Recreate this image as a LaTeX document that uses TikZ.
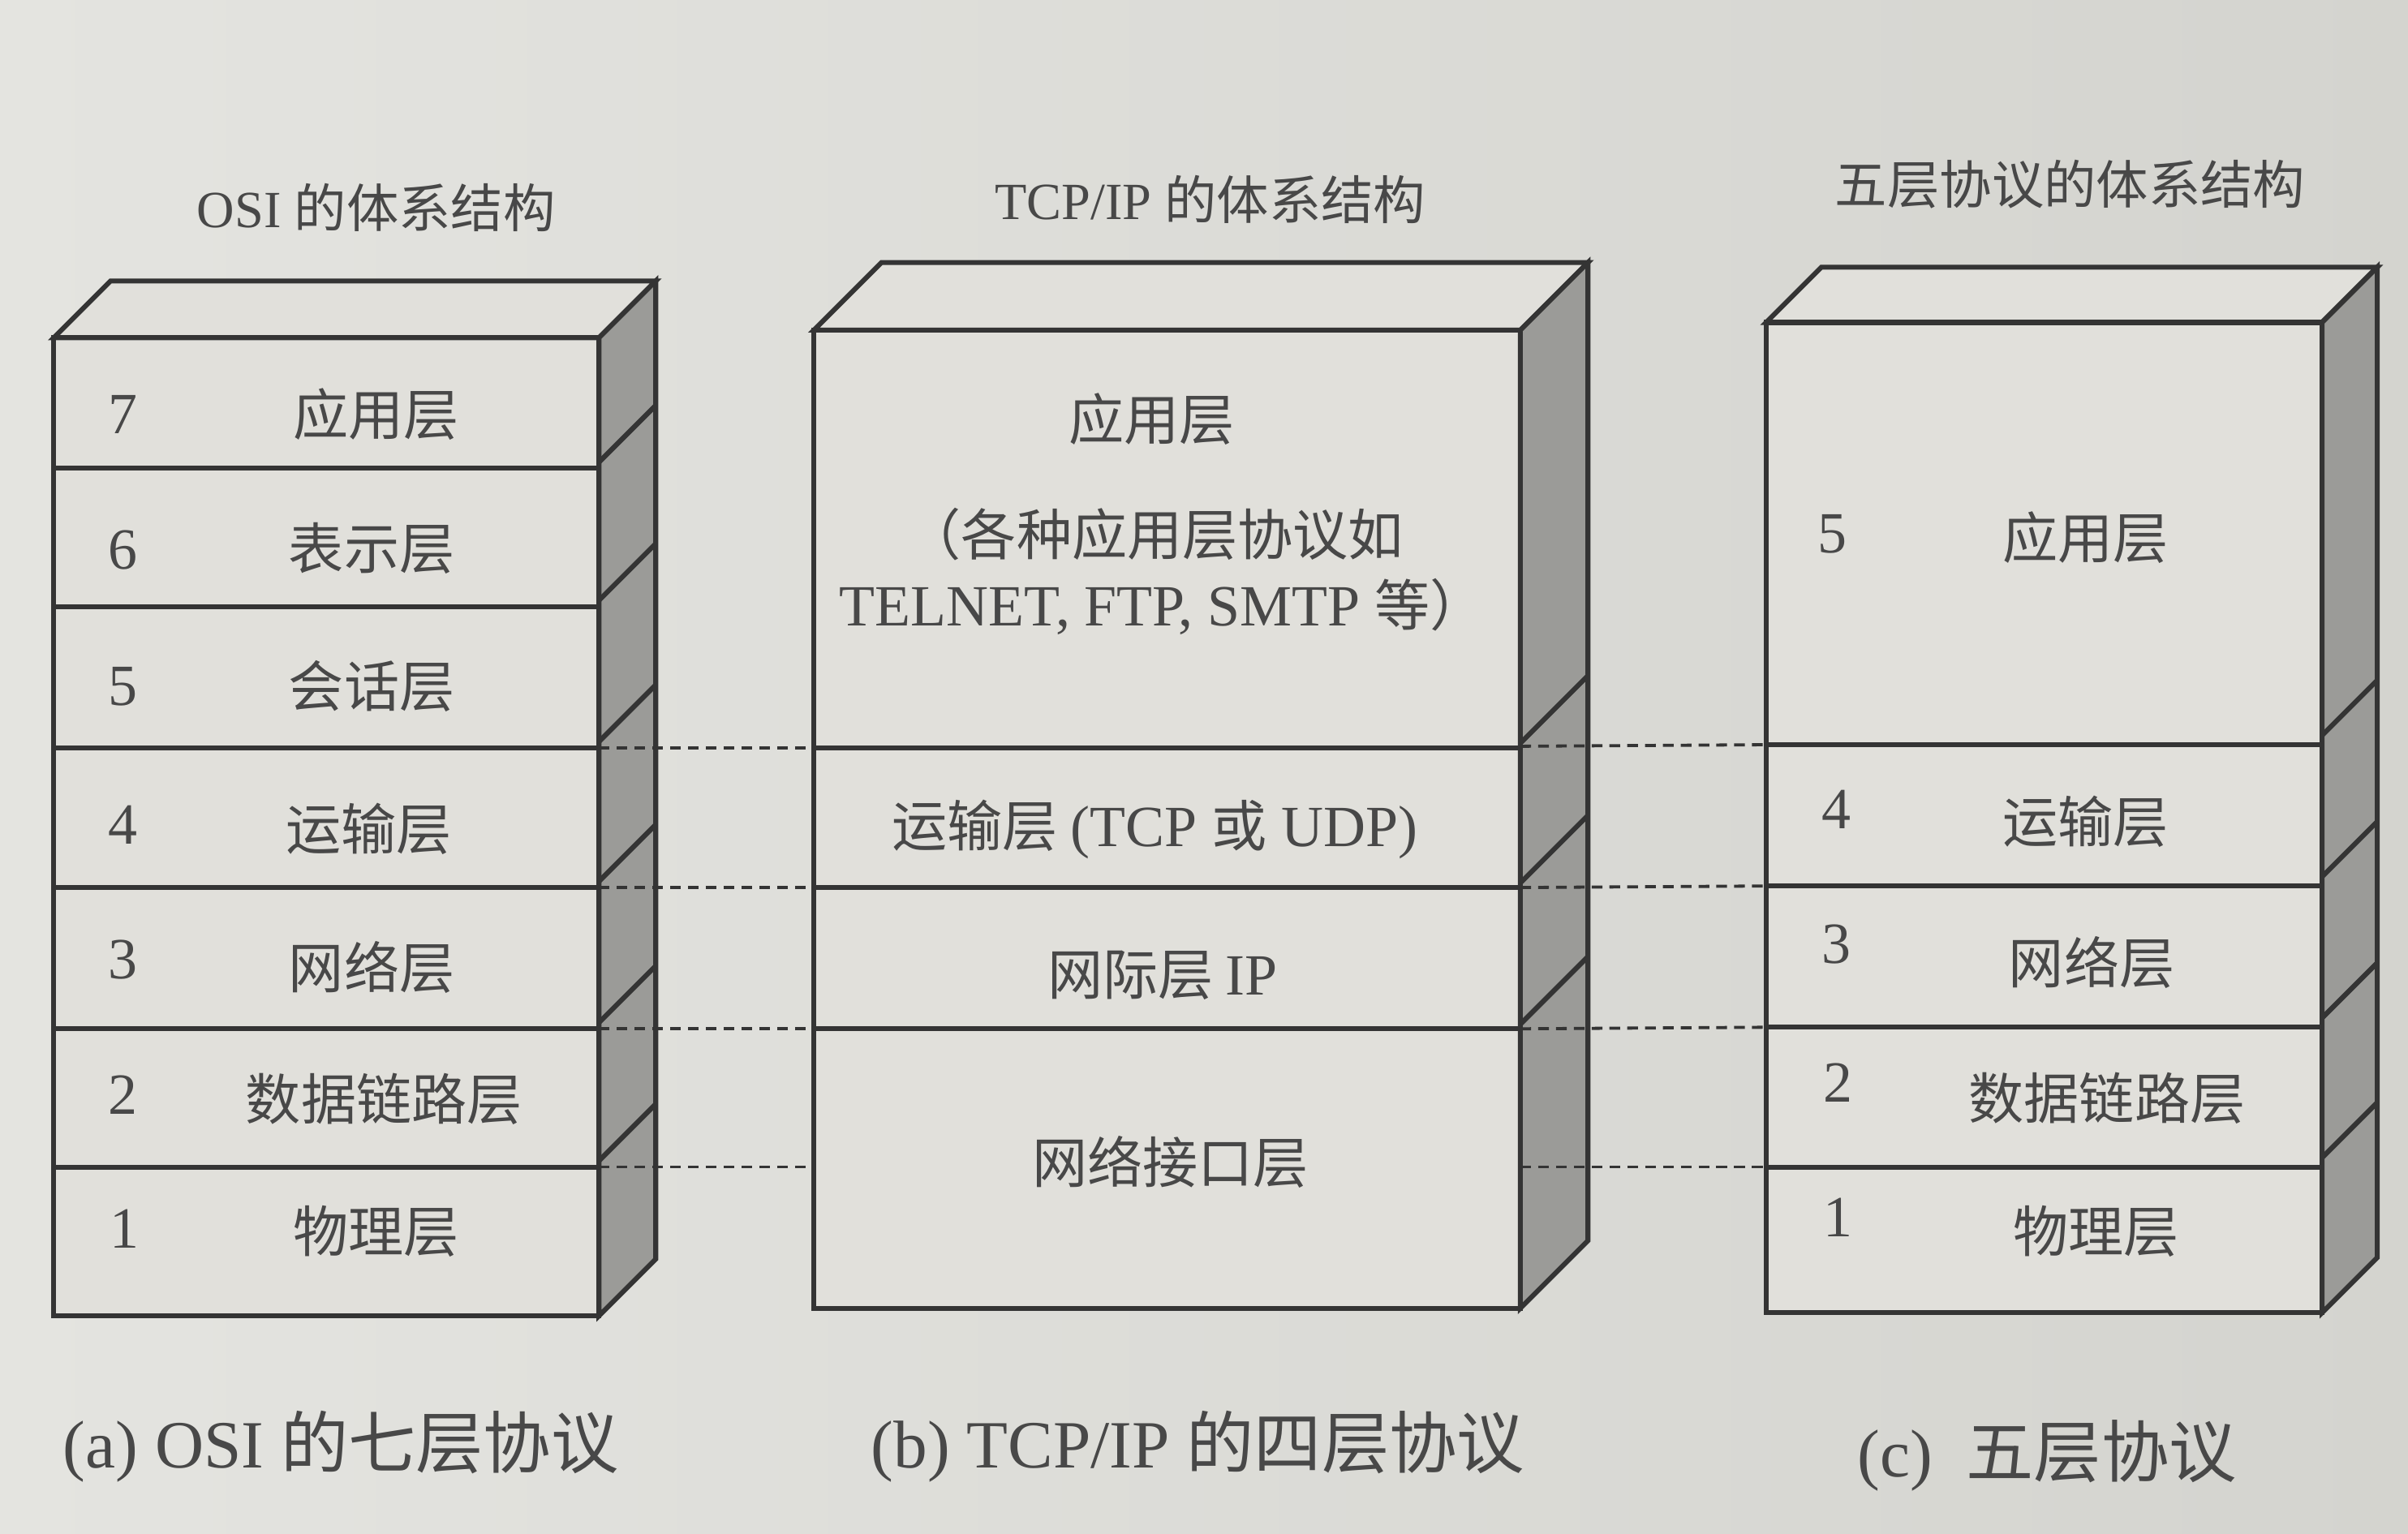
\documentclass[tikz,border=0pt]{standalone}
\usepackage{fontspec}
\setmainfont{Liberation Serif}
\newfontfamily\cjk{Noto Sans CJK SC}
\definecolor{bgL}{RGB}{228,228,224}
\definecolor{bgR}{RGB}{212,212,207}
\definecolor{face}{RGB}{225,224,219}
\definecolor{sideface}{RGB}{155,155,152}
\definecolor{ink}{RGB}{52,52,52}
\definecolor{txt}{RGB}{72,72,72}
\newcommand\layerbox[5]{% x1, x2, ytop, ybottom, depth
  \fill[face] (#1,#3) rectangle (#2,#4);
  \filldraw[fill=face,edge] (#1,#3) -- (#1+#5,#3-#5) -- (#2+#5,#3-#5) -- (#2,#3) -- cycle;
  \filldraw[fill=sideface,edge] (#2,#3) -- (#2+#5,#3-#5) -- (#2+#5,#4-#5) -- (#2,#4) -- cycle;
  \draw[edge] (#1,#3) rectangle (#2,#4);
}
\begin{document}
\begin{tikzpicture}[x=0.5pt,y=-0.5pt,
  edge/.style={draw=ink,line width=1.6pt,line join=miter},
  rowline/.style={draw=ink,line width=1.6pt},
  dashconn/.style={draw=ink,line width=1pt,dash pattern=on 3.5pt off 2.3pt},
  lbl/.style={font=\cjk\fontsize{18}{20}\selectfont,text=txt,inner sep=0pt},
  latin/.style={font=\fontsize{19}{21}\selectfont},
  num/.style={font=\fontsize{19}{21}\selectfont,text=txt,inner sep=0pt},
  ttl/.style={font=\fontsize{17}{20}\selectfont,text=txt,inner sep=0pt},
  captxt/.style={font=\fontsize{22}{26}\selectfont,text=txt,inner sep=0pt}]
\useasboundingbox (0,0) rectangle (1568,999);
\shade[left color=bgL,right color=bgR] (0,0) rectangle (1568,999);

% ---------- titles ----------
\node[ttl] (tA) at (245,135) {OSI {\cjk 的体系结构}};
\node[ttl] (tB) at (788,130) {TCP/IP {\cjk 的体系结构}};
\node[ttl] (tC) at (1348,120) {\cjk 五层协议的体系结构};

% ---------- box A (OSI) ----------
\layerbox{35}{390}{220}{857}{37}
\foreach \r in {305,395,487,578,670,760} {
  \draw[rowline] (35,\r) -- (390,\r);
  \draw[edge] (390,\r-4) -- (427,\r-41);
}
% ---------- box B (TCP/IP) ----------
\layerbox{530}{990}{215}{852}{44}
\foreach \r in {487,578,670} {
  \draw[rowline] (530,\r) -- (990,\r);
  \draw[edge] (990,\r-3) -- (1034,\r-47);
}
% ---------- box C (five layers) ----------
\layerbox{1150}{1512}{210}{855}{36}
\foreach \r in {485,577,669,760} {
  \draw[rowline] (1150,\r) -- (1512,\r);
  \draw[edge] (1512,\r-6) -- (1548,\r-42);
}

% ---------- connector end points ----------
\coordinate (A4) at (390,487); \coordinate (A3) at (390,578);
\coordinate (A2) at (390,670); \coordinate (A1) at (390,760);
\coordinate (BL4) at (530,487); \coordinate (BL3) at (530,578);
\coordinate (BL2) at (530,670); \coordinate (BL1) at (530,760);
\coordinate (BR4) at (990,486); \coordinate (BR3) at (990,578);
\coordinate (BR2) at (990,670); \coordinate (BR1) at (990,760);
\coordinate (C4) at (1150,485); \coordinate (C3) at (1150,577);
\coordinate (C2) at (1150,669); \coordinate (C1) at (1150,760);
\draw[dashconn] (A4) -- (BL4);
\draw[dashconn] (A3) -- (BL3);
\draw[dashconn] (A2) -- (BL2);
\draw[dashconn] (A1) -- (BL1);
\draw[dashconn] (BR4) -- (C4);
\draw[dashconn] (BR3) -- (C3);
\draw[dashconn] (BR2) -- (C2);
\draw[dashconn] (BR1) -- (C1);

% ---------- labels A ----------
\node[num] (an7) at (80,270) {7};
\node[num] (an6) at (80,358) {6};
\node[num] (an5) at (80,447) {5};
\node[num] (an4) at (80,537) {4};
\node[num] (an3) at (80,625) {3};
\node[num] (an2) at (80,713) {2};
\node[num] (an1) at (81,800) {1};
\node[lbl] (a7) at (245,270) {应用层};
\node[lbl] (a6) at (242,357) {表示层};
\node[lbl] (a5) at (242,447) {会话层};
\node[lbl] (a4) at (240,540) {运输层};
\node[lbl] (a3) at (242,630) {网络层};
\node[lbl] (a2) at (250,716) {数据链路层};
\node[lbl] (a1) at (245,802) {物理层};

% ---------- labels B ----------
\node[lbl] (b4) at (750,273) {应用层};
\node[lbl] (b4a) at (752,348) {（各种应用层协议如};
\node[lbl] (b4b) at (757,395) {{\rmfamily\fontsize{19}{21}\selectfont TELNET, FTP, SMTP }等）};
\node[lbl] (b3) at (752,540) {运输层 {\rmfamily\fontsize{19}{21}\selectfont (TCP }或{\rmfamily\fontsize{19}{21}\selectfont{} UDP)}};
\node[lbl] (b2) at (757,635) {网际层 {\rmfamily\fontsize{19}{21}\selectfont IP}};
\node[lbl] (b1) at (762,757) {网络接口层};

% ---------- labels C ----------
\node[num] (cn5) at (1193,348) {5};
\node[num] (cn4) at (1196,527) {4};
\node[num] (cn3) at (1196,615) {3};
\node[num] (cn2) at (1197,705) {2};
\node[num] (cn1) at (1197,793) {1};
\node[lbl] (c5) at (1358,350) {应用层};
\node[lbl] (c4) at (1358,535) {运输层};
\node[lbl] (c3) at (1362,627) {网络层};
\node[lbl] (c2) at (1372,715) {数据链路层};
\node[lbl] (c1) at (1365,802) {物理层};

% ---------- captions ----------
\node[captxt] (capA) at (222,942) {(a) OSI {\cjk 的七层协议}};
\node[captxt] (capB) at (780,942) {(b) TCP/IP {\cjk 的四层协议}};
\node[captxt] (capC) at (1333,948) {(c)\ \ {\cjk 五层协议}};
\end{tikzpicture}
\end{document}
